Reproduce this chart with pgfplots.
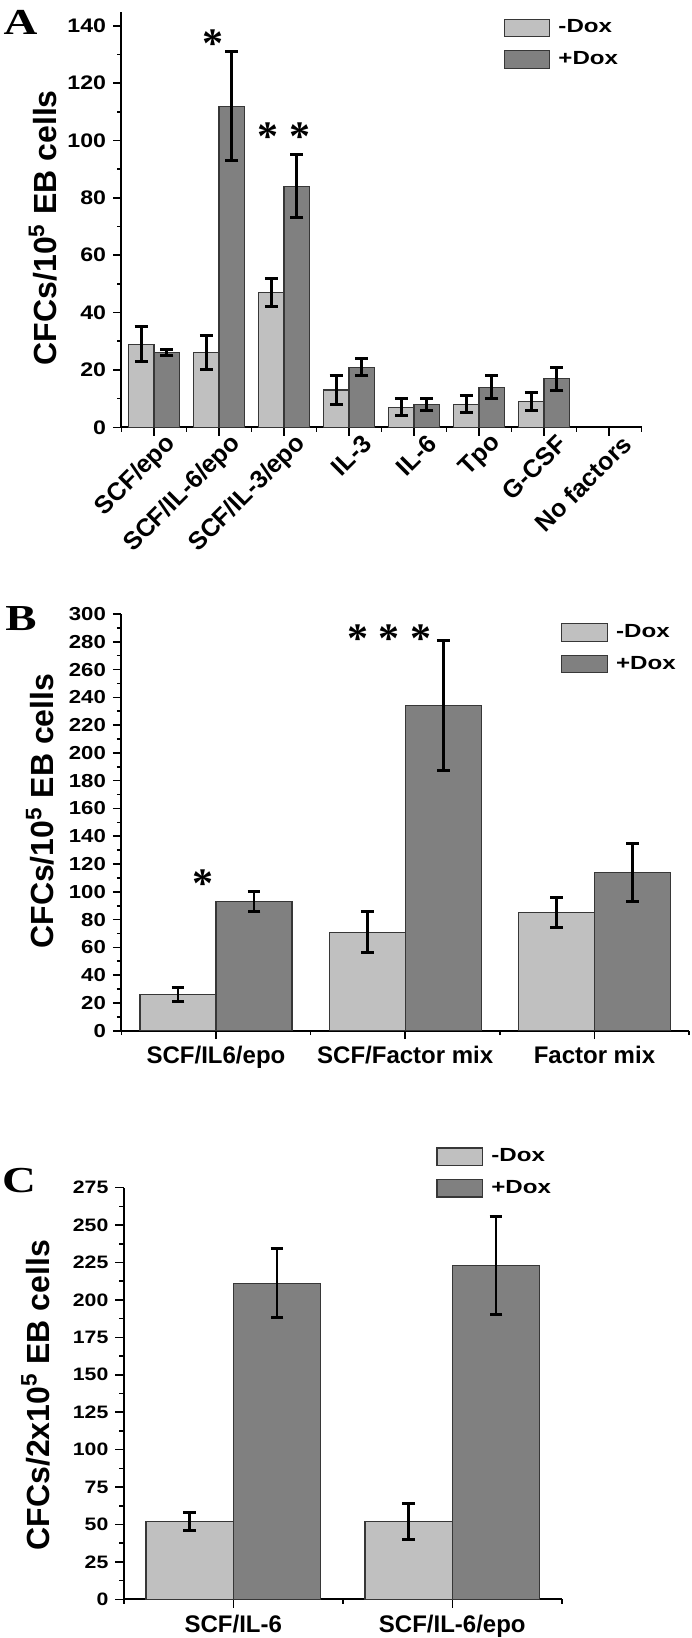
\documentclass[border=0pt]{standalone}
\usepackage{fontspec}
\setmainfont{Liberation Sans}
\newfontfamily\widesans{Liberation Sans}[FakeStretch=1.27]
\newfontfamily\ticksans{Liberation Sans}[FakeStretch=1.18]
\newfontfamily\letterfont{Liberation Serif}[FakeStretch=1.28]
\newfontfamily\starfont{Liberation Serif}
\usepackage{pgfplots}
\usepackage{pgfplotstable}
\pgfplotsset{compat=1.18}
\definecolor{lightbar}{RGB}{192,192,192}
\definecolor{darkbar}{RGB}{128,128,128}
\definecolor{barline}{RGB}{55,55,55}

\tikzset{sigstar/.style={font=\starfont\bfseries\fontsize{21}{21}\selectfont, anchor=base, yshift=-10.3pt, inner sep=0pt}}

\pgfplotsset{
  panel/.style={
    scale only axis,
    axis lines*=left,
    axis line style={line width=1pt, black},
    tick align=outside,
    tick style={line width=0.8pt, black},
    major tick length=4.2pt,
    minor tick length=2.2pt,
    /pgf/number format/assume math mode=true,
    yticklabel style={font=\ticksans\bfseries\fontsize{9.6}{10}\selectfont},
    xticklabel style={font=\bfseries\fontsize{12}{14}\selectfont},
    ylabel style={font=\bfseries\fontsize{16}{18}\selectfont, anchor=center},
    ymin=0,
    enlargelimits=false,
    clip=false,
    ybar=0pt,
    legend style={draw=none, fill=none, inner sep=0pt, anchor=north west,
      font=\widesans\bfseries\fontsize{9.5}{10}\selectfont,
      row sep=6.5pt, column sep=3.5pt, nodes={inner sep=0.5pt}},
    legend cell align=left,
  },
  barbox/.style={legend image code/.code={\draw[##1, line width=0.6pt] (0pt,-4.35pt) rectangle (22.85pt,4.35pt);}},
  minusdox/.style={fill=lightbar, draw=barline, line width=0.55pt, barbox,
    error bars/.cd, y dir=both, y explicit,
    error bar style={line width=1.4pt, black},
    error mark options={rotate=90, mark size=3.2pt, line width=1.5pt, black}},
  plusdox/.style={fill=darkbar, draw=barline, line width=0.55pt, barbox,
    error bars/.cd, y dir=both, y explicit,
    error bar style={line width=1.4pt, black},
    error mark options={rotate=90, mark size=3.2pt, line width=1.5pt, black}},
}

% Panel A: CFCs per 10^5 EB cells
\pgfplotstableread{
x y e
1 29 6
2 26 6
3 47 5
4 13 5
5 7 3
6 8 3
7 9 3
}\Aminus
\pgfplotstableread{
x y e
1 26 1
2 112 19
3 84 11
4 21 3
5 8 2
6 14 4
7 17 4
}\Aplus
% Panel B
\pgfplotstableread{
x y e
1 26 5
2 71 15
3 85 11
}\Bminus
\pgfplotstableread{
x y e
1 93 7
2 234 47
3 114 21
}\Bplus
% Panel C
\pgfplotstableread{
x y e
1 52 6
2 52 12
}\Cminus
\pgfplotstableread{
x y e
1 211 23
2 223 33
}\Cplus

\begin{document}
\begin{tikzpicture}
\path[use as bounding box] (0pt,0pt) rectangle (345.5pt,-819pt);

% ---------------- A ----------------
\begin{axis}[panel,
  at={(60.75pt,-213.65pt)}, anchor=south west,
  width=260pt, height=207.9pt,
  xmin=0.5, xmax=8.5, ymax=145,
  ytick={0,20,...,140}, minor ytick={10,30,...,130},
  xtick={1,...,8}, minor xtick={0.5,1.5,...,8.5},
  xticklabels={SCF/epo,SCF/IL-6/epo,SCF/IL-3/epo,IL-3,IL-6,Tpo,G-CSF,No factors},
  xticklabel style={rotate=45, anchor=east, inner sep=0pt, xshift=5pt, yshift=-7.8pt,
    font=\bfseries\fontsize{12.5}{14}\selectfont},
  yticklabel style={font=\ticksans\bfseries\fontsize{9.8}{10}\selectfont},
  bar width=12.85pt,
  ylabel={CFCs/10\textsuperscript{5} EB cells},
  ylabel style={at={(axis description cs:-0.151,0.48)}},
  legend style={at={(axis description cs:0.734,0.984)}},
]
\addplot[minusdox] table[x=x, y=y, y error=e] {\Aminus};
\addplot[plusdox] table[x=x, y=y, y error=e] {\Aplus};
\legend{-Dox,+Dox}
\node[sigstar] at (axis cs:1.91,136) {*};
\node[sigstar] at (axis cs:3.0,103.7) {* *};
\end{axis}

% ---------------- B ----------------
\begin{axis}[panel,
  at={(60.68pt,-515.35pt)}, anchor=south west,
  width=283.85pt, height=208.35pt,
  xmin=0.5, xmax=3.5, ymax=300,
  ytick={0,20,...,300}, minor ytick={10,30,...,290},
  xtick={1,2,3}, minor xtick={0.5,1.5,2.5,3.5},
  xticklabels={SCF/IL6/epo,SCF/Factor mix,Factor mix},
  yticklabel style={font=\ticksans\bfseries\fontsize{9.4}{10}\selectfont},
  bar width=38pt,
  ylabel={CFCs/10\textsuperscript{5} EB cells},
  ylabel style={at={(axis description cs:-0.143,0.527)}},
  legend style={at={(axis description cs:0.774,0.979)}},
]
\addplot[minusdox] table[x=x, y=y, y error=e] {\Bminus};
\addplot[plusdox] table[x=x, y=y, y error=e] {\Bplus};
\legend{-Dox,+Dox}
\node[sigstar] at (axis cs:0.93,111) {*};
\node[sigstar] at (axis cs:1.915,287) {* * *};
\end{axis}

% ---------------- C ----------------
\begin{axis}[panel,
  at={(61.9pt,-799.65pt)}, anchor=south west,
  width=219pt, height=205.85pt,
  xmin=0.5, xmax=2.5, ymax=275,
  ytick={0,25,...,275}, minor ytick={12.5,37.5,...,262.5},
  xtick={1,2}, minor xtick={0.5,1.5,2.5},
  xticklabels={SCF/IL-6,SCF/IL-6/epo},
  yticklabel style={font=\ticksans\bfseries\fontsize{9.0}{10}\selectfont},
  bar width=43.65pt,
  ylabel={CFCs/2x10\textsuperscript{5} EB cells},
  ylabel style={at={(axis description cs:-0.2016,0.496)}},
  legend style={at={(axis description cs:0.7128,1.0986)}},
]
\addplot[minusdox] table[x=x, y=y, y error=e] {\Cminus};
\addplot[plusdox] table[x=x, y=y, y error=e] {\Cplus};
\legend{-Dox,+Dox}
\end{axis}

% panel letters
\node[font=\letterfont\bfseries\fontsize{18.3}{18}\selectfont, inner sep=0pt] at (10.3pt,-11.1pt) {A};
\node[font=\letterfont\bfseries\fontsize{18.3}{18}\selectfont, inner sep=0pt] at (10.5pt,-309.5pt) {B};
\node[font=\letterfont\bfseries\fontsize{18.3}{18}\selectfont, inner sep=0pt] at (9.5pt,-590.5pt) {C};
\end{tikzpicture}
\end{document}
